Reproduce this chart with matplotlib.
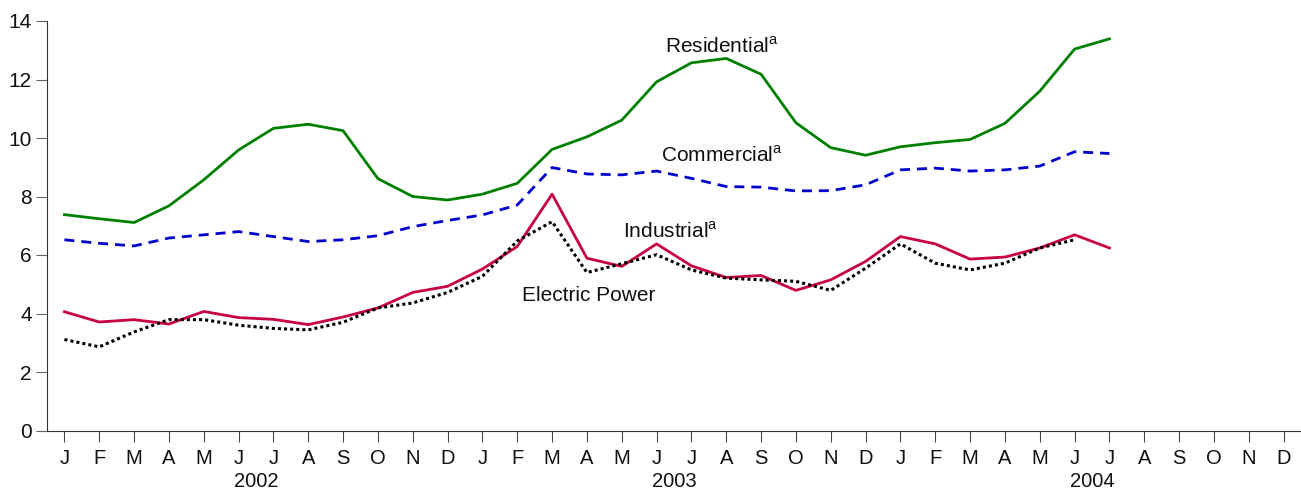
import matplotlib
matplotlib.use("Agg")
import matplotlib.pyplot as plt

plt.rcParams["font.family"] = ["Liberation Sans", "DejaVu Sans"]
plt.rcParams["mathtext.fontset"] = "custom"
plt.rcParams["mathtext.rm"] = "Liberation Sans"

months = ["J", "F", "M", "A", "M", "J", "J", "A", "S", "O", "N", "D"] * 3
years = ["2002", "2003", "2004"]

residential = [7.38, 7.24, 7.11, 7.68, 8.57, 9.59, 10.33, 10.47, 10.25, 8.61, 8.00, 7.88,
               8.08, 8.45, 9.61, 10.04, 10.61, 11.92, 12.57, 12.72, 12.18, 10.52, 9.67, 9.41,
               9.70, 9.84, 9.95, 10.50, 11.60, 13.04, 13.39]
commercial = [6.52, 6.40, 6.31, 6.58, 6.69, 6.80, 6.63, 6.46, 6.52, 6.66, 6.97, 7.18,
              7.37, 7.71, 8.99, 8.77, 8.74, 8.87, 8.62, 8.34, 8.32, 8.19, 8.20, 8.40,
              8.91, 8.97, 8.87, 8.91, 9.04, 9.53, 9.47]
industrial = [4.06, 3.71, 3.79, 3.64, 4.07, 3.86, 3.80, 3.62, 3.88, 4.19, 4.72, 4.93,
              5.52, 6.29, 8.08, 5.89, 5.61, 6.38, 5.63, 5.23, 5.30, 4.79, 5.15, 5.78,
              6.63, 6.38, 5.86, 5.93, 6.24, 6.69, 6.24]
electric = [3.11, 2.86, 3.37, 3.79, 3.79, 3.60, 3.49, 3.44, 3.70, 4.19, 4.36, 4.72,
            5.27, 6.48, 7.14, 5.40, 5.70, 6.01, 5.49, 5.21, 5.15, 5.10, 4.79, 5.55,
            6.38, 5.72, 5.49, 5.72, 6.24, 6.52]

fig = plt.figure(figsize=(13.01, 4.93), dpi=100)
ax = fig.add_axes([47 / 1301, 62.5 / 493, 1 - 47 / 1301, 409.5 / 493])

ax.plot(range(len(residential)), residential, color="#008000", lw=2)
ax.plot(range(len(commercial)), commercial, color="#0000cc", lw=2, linestyle=(0, (3.6, 2.5)))
ax.plot(range(len(industrial)), industrial, color="#c8004a", lw=2)
ax.plot(range(len(electric)), electric, color="black", lw=2.2, linestyle=(0, (1, 1)))

ax.set_xlim(-0.5, 35.5)
ax.set_ylim(0, 14)
ax.set_xticks(range(36))
ax.set_xticklabels(months, fontsize=14.5, color="#111111")
ax.set_yticks(range(0, 15, 2))
ax.tick_params(axis="y", labelsize=15, labelcolor="#111111", length=8, color="#666666", pad=3)
ax.tick_params(axis="x", length=8, color="#444444", pad=5)
for s in ["top", "right"]:
    ax.spines[s].set_visible(False)
ax.spines["left"].set_color("#333333")
ax.spines["bottom"].set_color("#333333")

for i, yr in enumerate(years):
    ax.text(5.5 + 12 * i, -1.92, yr, ha="center", va="baseline", fontsize=14.5, color="#111111")

lab = dict(ha="center", va="baseline", fontsize=15, color="#111111")
ax.text(18.88, 12.93, r"Residential$^{\mathregular{a}}$", **lab)
ax.text(18.88, 9.19, r"Commercial$^{\mathregular{a}}$", **lab)
ax.text(17.39, 6.58, r"Industrial$^{\mathregular{a}}$", **lab)
ax.text(15.06, 4.44, "Electric Power", **lab)

fig.savefig("out.png", dpi=100)
